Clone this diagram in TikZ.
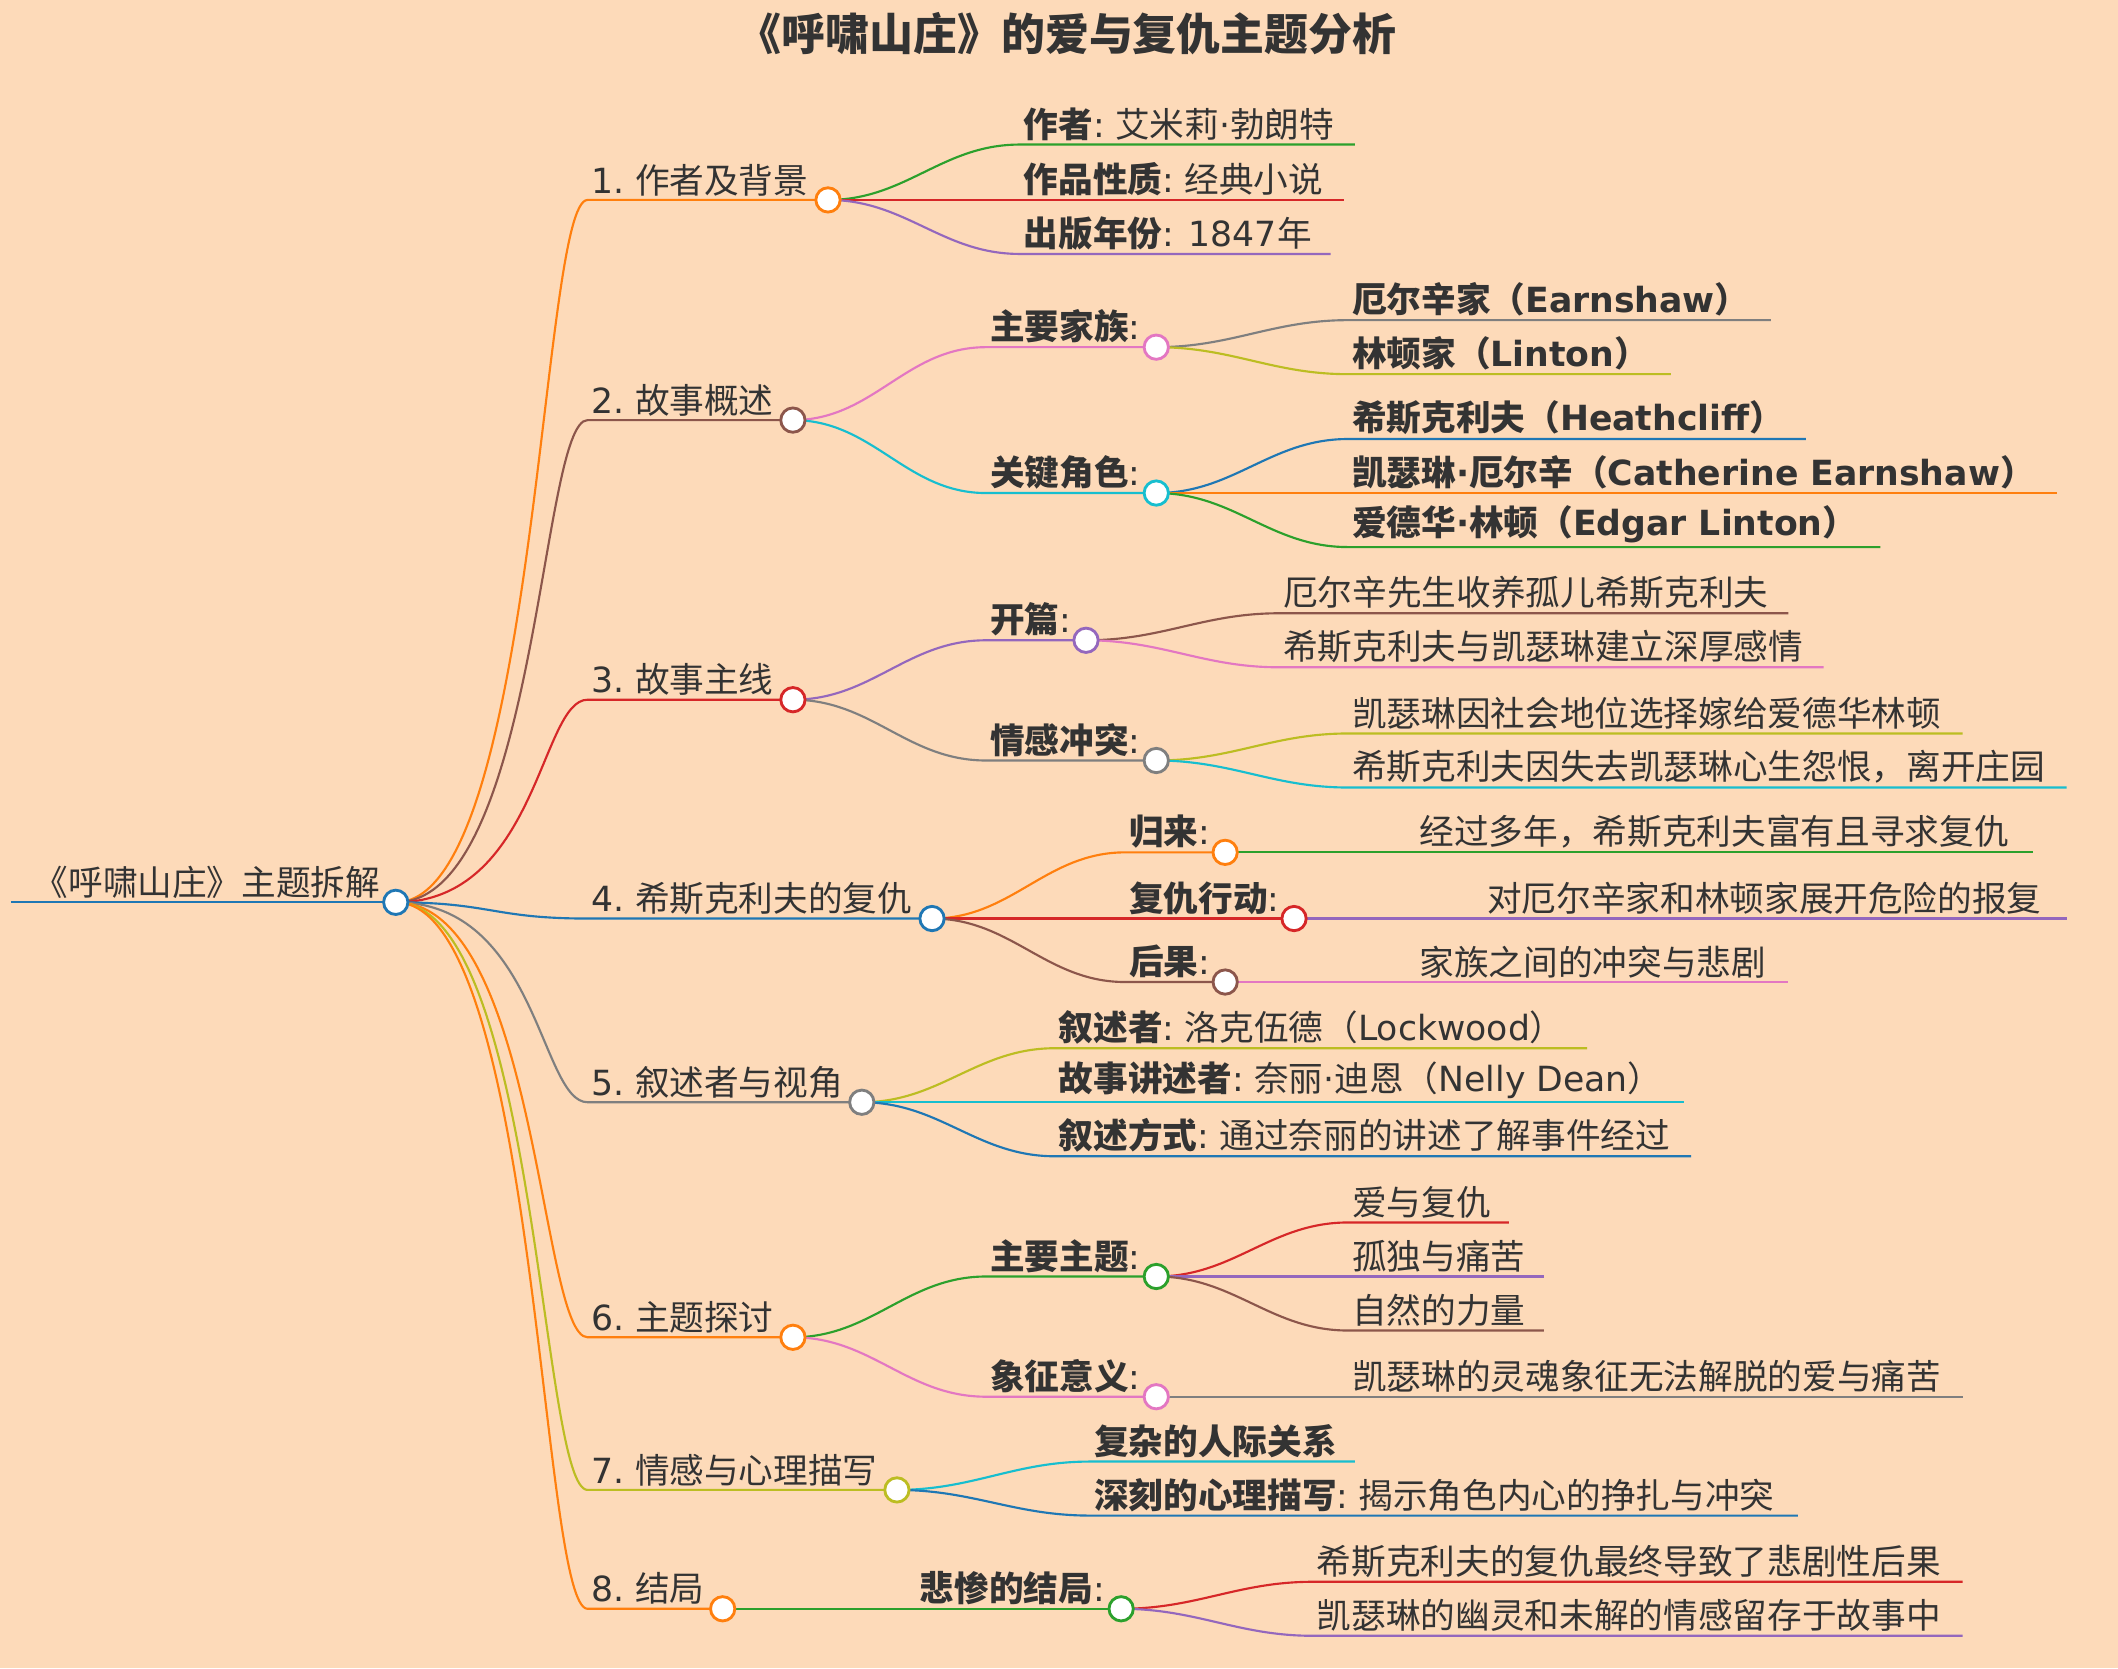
\documentclass[tikz,border=0pt]{standalone}
\usepackage{fontspec}
\setmainfont{Noto Sans CJK SC}
\newfontfamily\dv{DejaVu Sans}
\definecolor{bg}{HTML}{FDDAB9}
\definecolor{txt}{HTML}{333333}
\definecolor{cb}{HTML}{1F77B4}
\definecolor{co}{HTML}{FF7F0E}
\definecolor{cg}{HTML}{2CA02C}
\definecolor{cr}{HTML}{D62728}
\definecolor{cp}{HTML}{9467BD}
\definecolor{cn}{HTML}{8C564B}
\definecolor{ck}{HTML}{E377C2}
\definecolor{cy}{HTML}{7F7F7F}
\definecolor{cl}{HTML}{BCBD22}
\definecolor{cc}{HTML}{17BECF}
\begin{document}
\begin{tikzpicture}[x=0.02cm, y=-0.02cm,
    ln/.style={line width=0.9pt},
    cv/.style={out=0, in=180},
    dot/.style={circle, draw=#1, fill=white, line width=1.2pt, minimum size=0.36cm, inner sep=0pt},
    lab/.style={anchor=south west, inner sep=1.5pt, text=txt, font=\fontsize{14.6}{17}\selectfont}
  ]
  \fill[bg] (0,0) rectangle (1568,1235);
  \node[text=txt, font=\fontsize{18.5}{22}\selectfont\bfseries] (title) at (790,25) {《呼啸山庄》的爱与复仇主题分析};

  % root
  \coordinate (rootL) at (8,668);
  \coordinate (root) at (293,668);
  \draw[ln, cb] (rootL) -- (root);
  \node[lab] (troot) at (22,668) {《呼啸山庄》主题拆解};

  % level 1
  \coordinate (b1) at (435,148); \coordinate (n1) at (613,148);
  \coordinate (b2) at (435,311); \coordinate (n2) at (587,311);
  \coordinate (b3) at (435,518); \coordinate (n3) at (587,518);
  \coordinate (b4) at (435,680); \coordinate (n4) at (690,680);
  \coordinate (b5) at (435,816); \coordinate (n5) at (638,816);
  \coordinate (b6) at (435,990); \coordinate (n6) at (587,990);
  \coordinate (b7) at (435,1103); \coordinate (n7) at (664,1103);
  \coordinate (b8) at (435,1191); \coordinate (n8) at (535,1191);
  \draw[ln, co] (root) .. controls +(105,0) and +(-35,0) .. (b1) -- (n1);
  \draw[ln, cn] (root) .. controls +(105,0) and +(-35,0) .. (b2) -- (n2);
  \draw[ln, cr] (root) .. controls +(105,0) and +(-35,0) .. (b3) -- (n3);
  \draw[ln, cb] (root) .. controls +(70,0) and +(-70,0) .. (b4) -- (n4);
  \draw[ln, cy] (root) .. controls +(105,0) and +(-35,0) .. (b5) -- (n5);
  \draw[ln, co] (root) .. controls +(105,0) and +(-35,0) .. (b6) -- (n6);
  \draw[ln, cl] (root) .. controls +(105,0) and +(-35,0) .. (b7) -- (n7);
  \draw[ln, co] (root) .. controls +(105,0) and +(-35,0) .. (b8) -- (n8);
  \node[lab] (t1) at (b1) {{\dv 1.} 作者及背景};
  \node[lab] (t2) at (b2) {{\dv 2.} 故事概述};
  \node[lab] (t3) at (b3) {{\dv 3.} 故事主线};
  \node[lab] (t4) at (b4) {{\dv 4.} 希斯克利夫的复仇};
  \node[lab] (t5) at (b5) {{\dv 5.} 叙述者与视角};
  \node[lab] (t6) at (b6) {{\dv 6.} 主题探讨};
  \node[lab] (t7) at (b7) {{\dv 7.} 情感与心理描写};
  \node[lab] (t8) at (b8) {{\dv 8.} 结局};

  % 1
  \draw[ln, cg] (n1) to[cv] (755,107) coordinate (l11) -- (1003,107) coordinate (e11);
  \draw[ln, cr] (n1) to[cv] (755,148) coordinate (l12) -- (995,148) coordinate (e12);
  \draw[ln, cp] (n1) to[cv] (755,188) coordinate (l13) -- (985,188) coordinate (e13);
  \node[lab] (t11) at (l11) {\textbf{作者}{\dv :} 艾米莉{\dv ·}勃朗特};
  \node[lab] (t12) at (l12) {\textbf{作品性质}{\dv :} 经典小说};
  \node[lab] (t13) at (l13) {\textbf{出版年份}{\dv : 1847}年};

  % 2
  \coordinate (m21) at (856,257); \coordinate (m22) at (856,365);
  \draw[ln, ck] (n2) to[cv] (730,257) coordinate (l21) -- (m21);
  \draw[ln, cc] (n2) to[cv] (730,365) coordinate (l22) -- (m22);
  \node[lab] (t21) at (l21) {\textbf{主要家族}{\dv :}};
  \node[lab] (t22) at (l22) {\textbf{关键角色}{\dv :}};
  \draw[ln, cy] (m21) to[cv] (998,237) coordinate (l211) -- (1311,237);
  \draw[ln, cl] (m21) to[cv] (998,277) coordinate (l212) -- (1237,277);
  \draw[ln, cb] (m22) to[cv] (998,325) coordinate (l221) -- (1337,325);
  \draw[ln, co] (m22) to[cv] (998,365) coordinate (l222) -- (1523,365);
  \draw[ln, cg] (m22) to[cv] (998,405) coordinate (l223) -- (1392,405);
  \node[lab] (t211) at (l211) {\textbf{厄尔辛家（{\dv Earnshaw}）}};
  \node[lab] (t212) at (l212) {\textbf{林顿家（{\dv Linton}）}};
  \node[lab] (t221) at (l221) {\textbf{希斯克利夫（{\dv Heathcliff}）}};
  \node[lab] (t222) at (l222) {\textbf{凯瑟琳{\dv ·}厄尔辛（{\dv Catherine Earnshaw}）}};
  \node[lab] (t223) at (l223) {\textbf{爱德华{\dv ·}林顿（{\dv Edgar Linton}）}};

  % 3
  \coordinate (m31) at (804,474); \coordinate (m32) at (856,563);
  \draw[ln, cp] (n3) to[cv] (730,474) coordinate (l31) -- (m31);
  \draw[ln, cy] (n3) to[cv] (730,563) coordinate (l32) -- (m32);
  \node[lab] (t31) at (l31) {\textbf{开篇}{\dv :}};
  \node[lab] (t32) at (l32) {\textbf{情感冲突}{\dv :}};
  \draw[ln, cn] (m31) to[cv] (947,454) coordinate (l311) -- (1324,454);
  \draw[ln, ck] (m31) to[cv] (947,494) coordinate (l312) -- (1350,494);
  \draw[ln, cl] (m32) to[cv] (998,543) coordinate (l321) -- (1453,543);
  \draw[ln, cc] (m32) to[cv] (998,583) coordinate (l322) -- (1530,583);
  \node[lab] (t311) at (l311) {厄尔辛先生收养孤儿希斯克利夫};
  \node[lab] (t312) at (l312) {希斯克利夫与凯瑟琳建立深厚感情};
  \node[lab] (t321) at (l321) {凯瑟琳因社会地位选择嫁给爱德华林顿};
  \node[lab] (t322) at (l322) {希斯克利夫因失去凯瑟琳心生怨恨，离开庄园};

  % 4
  \coordinate (m41) at (907,631); \coordinate (m42) at (958,680); \coordinate (m43) at (907,727);
  \draw[ln, co] (n4) to[cv] (833,631) coordinate (l41) -- (m41);
  \draw[ln, cr] (n4) to[cv] (833,680) coordinate (l42) -- (m42);
  \draw[ln, cn] (n4) to[cv] (833,727) coordinate (l43) -- (m43);
  \node[lab] (t41) at (l41) {\textbf{归来}{\dv :}};
  \node[lab] (t42) at (l42) {\textbf{复仇行动}{\dv :}};
  \node[lab] (t43) at (l43) {\textbf{后果}{\dv :}};
  \draw[ln, cg] (m41) -- (1505,631) coordinate (e411);
  \draw[ln, cp] (m42) -- (1530,680) coordinate (e421);
  \draw[ln, ck] (m43) -- (1324,727) coordinate (e431);
  \node[lab] (t411) at (1048,631) {经过多年，希斯克利夫富有且寻求复仇};
  \node[lab] (t421) at (1098,680) {对厄尔辛家和林顿家展开危险的报复};
  \node[lab] (t431) at (1048,727) {家族之间的冲突与悲剧};

  % 5
  \draw[ln, cl] (n5) to[cv] (781,776) coordinate (l51) -- (1175,776);
  \draw[ln, cc] (n5) to[cv] (781,816) coordinate (l52) -- (1247,816);
  \draw[ln, cb] (n5) to[cv] (781,856) coordinate (l53) -- (1252,856);
  \node[lab] (t51) at (l51) {\textbf{叙述者}{\dv :} 洛克伍德（{\dv Lockwood}）};
  \node[lab] (t52) at (l52) {\textbf{故事讲述者}{\dv :} 奈丽{\dv ·}迪恩（{\dv Nelly Dean}）};
  \node[lab] (t53) at (l53) {\textbf{叙述方式}{\dv :} 通过奈丽的讲述了解事件经过};

  % 6
  \coordinate (m61) at (856,945); \coordinate (m62) at (856,1034);
  \draw[ln, cg] (n6) to[cv] (730,945) coordinate (l61) -- (m61);
  \draw[ln, ck] (n6) to[cv] (730,1034) coordinate (l62) -- (m62);
  \node[lab] (t61) at (l61) {\textbf{主要主题}{\dv :}};
  \node[lab] (t62) at (l62) {\textbf{象征意义}{\dv :}};
  \draw[ln, cr] (m61) to[cv] (998,905) coordinate (l611) -- (1117,905);
  \draw[ln, cp] (m61) to[cv] (998,945) coordinate (l612) -- (1143,945);
  \draw[ln, cn] (m61) to[cv] (998,985) coordinate (l613) -- (1143,985);
  \draw[ln, cy] (m62) -- (1453,1034) coordinate (e621);
  \node[lab] (t611) at (l611) {爱与复仇};
  \node[lab] (t612) at (l612) {孤独与痛苦};
  \node[lab] (t613) at (l613) {自然的力量};
  \node[lab] (t621) at (998,1034) {凯瑟琳的灵魂象征无法解脱的爱与痛苦};

  % 7
  \draw[ln, cc] (n7) to[cv] (807,1082) coordinate (l71) -- (1003,1082);
  \draw[ln, cb] (n7) to[cv] (807,1122) coordinate (l72) -- (1331,1122);
  \node[lab] (t71) at (l71) {\textbf{复杂的人际关系}};
  \node[lab] (t72) at (l72) {\textbf{深刻的心理描写}{\dv :} 揭示角色内心的挣扎与冲突};

  % 8
  \coordinate (m81) at (830,1191);
  \draw[ln, cg] (n8) -- (m81);
  \node[lab] (t81) at (678,1191) {\textbf{悲惨的结局}{\dv :}};
  \draw[ln, cr] (m81) to[cv] (972,1171) coordinate (l811) -- (1453,1171);
  \draw[ln, cp] (m81) to[cv] (972,1211) coordinate (l812) -- (1453,1211);
  \node[lab] (t811) at (l811) {希斯克利夫的复仇最终导致了悲剧性后果};
  \node[lab] (t812) at (l812) {凯瑟琳的幽灵和未解的情感留存于故事中};

  % circles
  \node[dot=cb] at (root) {};
  \node[dot=co] at (n1) {}; \node[dot=cn] at (n2) {}; \node[dot=cr] at (n3) {};
  \node[dot=cb] at (n4) {}; \node[dot=cy] at (n5) {}; \node[dot=co] at (n6) {};
  \node[dot=cl] at (n7) {}; \node[dot=co] at (n8) {};
  \node[dot=ck] at (m21) {}; \node[dot=cc] at (m22) {};
  \node[dot=cp] at (m31) {}; \node[dot=cy] at (m32) {};
  \node[dot=co] at (m41) {}; \node[dot=cr] at (m42) {}; \node[dot=cn] at (m43) {};
  \node[dot=cg] at (m61) {}; \node[dot=ck] at (m62) {};
  \node[dot=cg] at (m81) {};
\end{tikzpicture}
\end{document}
